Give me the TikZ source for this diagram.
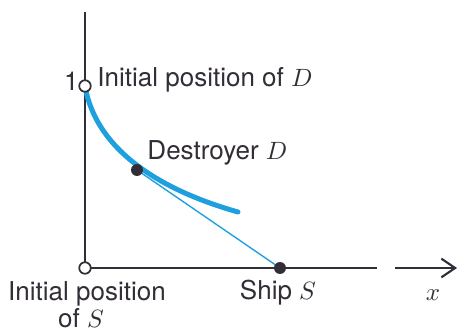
\documentclass[tikz,border=0pt]{standalone}
\usepackage{fontspec}
\setmainfont{TeX Gyre Heros}
\usetikzlibrary{arrows.meta}
\definecolor{inkgray}{RGB}{50,45,55}
\definecolor{pathblue}{RGB}{30,160,222}
\tikzset{
  axis/.style={draw=inkgray,line width=0.85pt},
  pursuit/.style={draw=pathblue,line width=2pt,line cap=round},
  sightline/.style={draw=pathblue,line width=0.55pt},
  opendot/.style={circle,draw=inkgray,fill=white,line width=0.7pt,inner sep=0pt,minimum size=4.6pt},
  fulldot/.style={circle,fill=inkgray,inner sep=0pt,minimum size=4.8pt},
  lbl/.style={text=inkgray,font=\fontsize{10.4}{12}\selectfont,inner sep=0pt}
}
\begin{document}
\begin{tikzpicture}[x=0.4pt,y=-0.4pt]
\useasboundingbox(0,0) rectangle (462,333);
% axes
\coordinate(top) at (85,12);
\coordinate(O) at (85,268);
\coordinate(xend) at (377,268);
\coordinate(arstart) at (395,268);
\coordinate(arend) at (457,268);
\draw[axis](top)--(O)--(xend);
\draw[axis,-{Straight Barb[length=5.5pt,width=7.5pt]}](arstart)--(arend);
% pursuit curve and line of sight
\coordinate(Dstart) at (85,86);
\coordinate(Dnow) at (137,170);
\coordinate(Send) at (280,268);
\coordinate(Cend) at (238,212);
\draw[sightline](Dnow)--(Send);
\draw[pursuit](Dstart) .. controls (96,150) and (160,190) .. (Cend);
% points
\node[opendot](D0) at (Dstart){};
\node[opendot](S0) at (O){};
\node[fulldot](D) at (Dnow){};
\node[fulldot](S) at (Send){};
% labels
\node[lbl,anchor=east](one) at (79,81){1};
\node[lbl,anchor=west](initD) at (97,80){Initial position of $D$};
\node[lbl,anchor=west](destroyer) at (147,153){Destroyer $D$};
\node[lbl](initS) at (87,294){Initial position};
\node[lbl](ofS) at (81,318){of $S$};
\node[lbl](ship) at (278,293){Ship $S$};
\node[lbl](xlabel) at (433,295){$x$};
\end{tikzpicture}
\end{document}
